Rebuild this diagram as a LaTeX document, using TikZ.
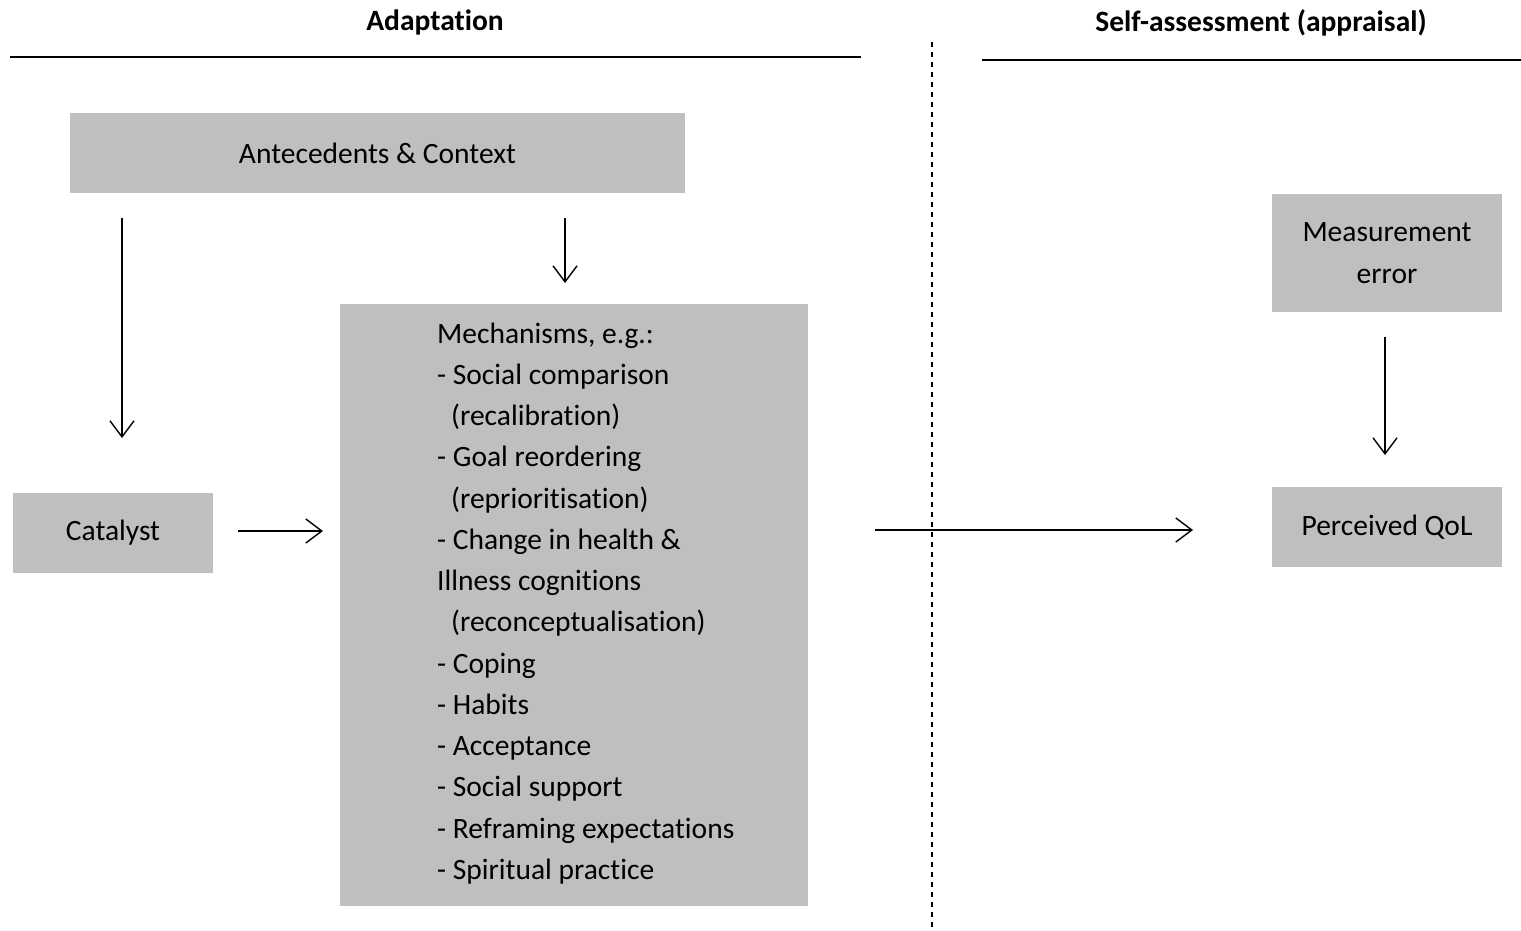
\documentclass[tikz,border=0pt]{standalone}
\usepackage{fontspec}
\setmainfont{Carlito}[Ligatures=NoCommon]
\usetikzlibrary{arrows.meta}
\begin{document}
\begin{tikzpicture}[x=1pt,y=-1pt,
  box/.style={fill=black!25, draw=none, inner sep=0pt, font=\fontsize{29.5}{42}\selectfont},
  flow/.style={line width=1.4pt, -{Straight Barb[length=16pt,width=24pt,line width=1.4pt]}},
  rule/.style={line width=2.6pt},
  head/.style={font=\fontsize{29.5}{34}\selectfont\bfseries}]
\useasboundingbox (0,0) rectangle (1521,931);

% section headings and rules
\node[head] (hadapt) at (435,22) {Adaptation};
\node[head] (hself) at (1261,23) {Self-assessment (appraisal)};
\coordinate (ra1) at (10,57);  \coordinate (ra2) at (861,57);
\coordinate (rs1) at (982,60); \coordinate (rs2) at (1521,60);
\draw[rule] (ra1) -- (ra2);
\draw[rule] (rs1) -- (rs2);

% dashed separator
\coordinate (d1) at (932,42); \coordinate (d2) at (932,931);
\draw[line width=1.4pt, dash pattern=on 5pt off 5pt] (d1) -- (d2);

% boxes
\node[box, minimum width=615pt, minimum height=80pt] (ante) at (377.5,153) {Antecedents \& Context};
\node[box, minimum width=200pt, minimum height=80pt] (cat) at (113,533) {Catalyst};
\node[box, minimum width=468pt, minimum height=602pt] (mech) at (574,605) {};
\node[box, minimum width=230pt, minimum height=118pt, align=center] (meas) at (1387,253) {Measurement\\error};
\node[box, minimum width=230pt, minimum height=80pt] (qol) at (1387,527) {Perceived QoL};

\node[anchor=north west, inner sep=0pt, align=left, font=\fontsize{29.5}{41.25}\selectfont] (mtext) at (437,322.5)
{Mechanisms, e.g.:\\
- Social comparison\\
\hspace*{14pt}(recalibration)\\
- Goal reordering\\
\hspace*{14pt}(reprioritisation)\\
- Change in health \&\\
Illness cognitions\\
\hspace*{14pt}(reconceptualisation)\\
- Coping\\
- Habits\\
- Acceptance\\
- Social support\\
- Reframing expectations\\
- Spiritual practice};

% connectors
\coordinate (a1s) at (122,218); \coordinate (a1e) at (122,438);
\coordinate (a2s) at (565,218); \coordinate (a2e) at (565,283);
\coordinate (a3s) at (238,531); \coordinate (a3e) at (323,531);
\coordinate (a4s) at (875,530); \coordinate (a4e) at (1193,530);
\coordinate (a5s) at (1385,337); \coordinate (a5e) at (1385,455);
\draw[flow] (a1s) -- (a1e);
\draw[flow] (a2s) -- (a2e);
\draw[flow] (a3s) -- (a3e);
\draw[flow] (a4s) -- (a4e);
\draw[flow] (a5s) -- (a5e);
\end{tikzpicture}
\end{document}
